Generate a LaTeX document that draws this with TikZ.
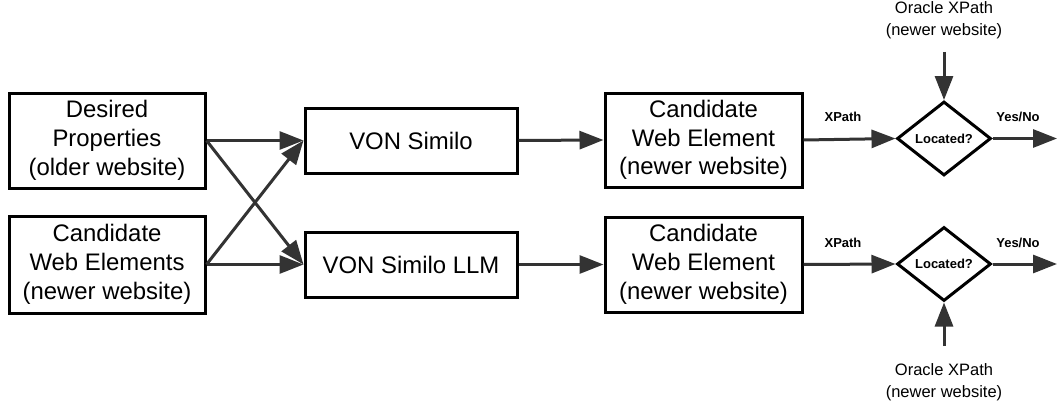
\documentclass[tikz,border=0pt]{standalone}
\usepackage{fontspec}
\setmainfont{Liberation Sans}
\usetikzlibrary{shapes.geometric,arrows.meta}
\definecolor{arrowgray}{HTML}{333333}
\begin{document}
\begin{tikzpicture}[x=1pt,y=-1pt,
 box/.style={draw=black,line width=3pt,align=center,inner sep=0pt,font=\fontsize{23.9}{28.7}\selectfont},
 dec/.style={diamond,draw=black,line width=3pt,inner sep=0pt,minimum width=94pt,minimum height=74pt,font=\bfseries\fontsize{13}{15}\selectfont},
 flow/.style={draw=arrowgray,line width=3pt,-{Triangle[length=24pt,width=18pt]}},
 lbl/.style={font=\bfseries\fontsize{13}{15}\selectfont,inner sep=0pt},
 oracle/.style={align=center,font=\fontsize{16.5}{21.5}\selectfont,inner sep=0pt}]
\useasboundingbox (0,0) rectangle (1057,404);
\fill[white] (0,0) rectangle (1057,404);

\node[box,minimum width=196pt,minimum height=95pt] (dp) at (107,140.5) {Desired\\Properties\\(older website)};
\node[box,minimum width=196pt,minimum height=97pt] (cwe) at (107,264.5) {Candidate\\Web Elements\\(newer website)};
\node[box,minimum width=212pt,minimum height=65pt] (vs) at (411,140.5) {VON Similo};
\node[box,minimum width=212pt,minimum height=65pt] (vsl) at (411,264.5) {VON Similo LLM};
\node[box,minimum width=197pt,minimum height=94pt] (c1) at (703.5,140) {Candidate\\Web Element\\(newer website)};
\node[box,minimum width=197pt,minimum height=95pt] (c2) at (703.5,264.5) {Candidate\\Web Element\\(newer website)};
\node[dec] (d1) at (944,138.5) {Located?};
\node[dec] (d2) at (944,264) {Located?};
\node[oracle] (o1) at (944,20) {Oracle XPath\\(newer website)};
\node[oracle] (o2) at (944,382) {Oracle XPath\\(newer website)};
\coordinate (t1) at (944,52);
\coordinate (t2) at (944,346);
\coordinate (e1) at (1057,138.5);
\coordinate (e2) at (1057,264);

\draw[flow] (dp.east) -- (vs.west);
\draw[flow] (dp.east) -- (vsl.west);
\draw[flow] (cwe.east) -- (vs.west);
\draw[flow] (cwe.east) -- (vsl.west);
\draw[flow] (vs.east) -- (c1.west);
\draw[flow] (vsl.east) -- (c2.west);
\draw[flow] (c1.east) -- (d1.west);
\draw[flow] (c2.east) -- (d2.west);
\draw[flow] (t1) -- (d1.north);
\draw[flow] (t2) -- (d2.south);
\draw[flow] (d1.east) -- (e1);
\draw[flow] (d2.east) -- (e2);

\node[lbl] (x1) at (843,117) {XPath};
\node[lbl] (x2) at (843,243) {XPath};
\node[lbl] (y1) at (1018,117) {Yes/No};
\node[lbl] (y2) at (1018,243) {Yes/No};
\end{tikzpicture}
\end{document}
